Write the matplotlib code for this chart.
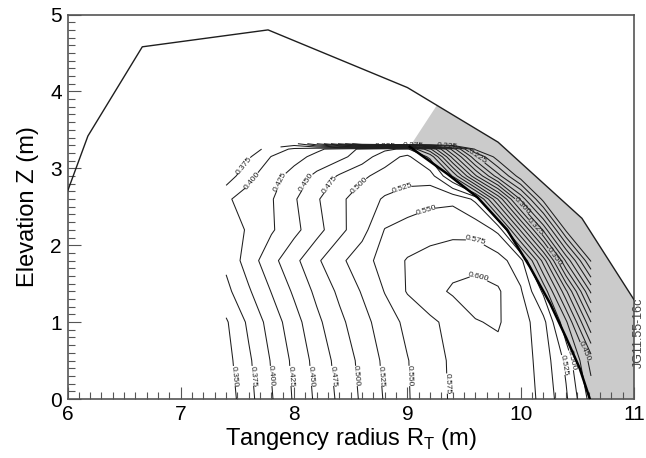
import numpy as np
import matplotlib
matplotlib.use("Agg")
import matplotlib.pyplot as plt
from matplotlib.ticker import MultipleLocator

plt.rcParams["font.family"] = ["Liberation Sans", "DejaVu Sans"]
plt.rcParams["mathtext.fontset"] = "custom"
plt.rcParams["mathtext.rm"] = "Liberation Sans"

# ── mapped quantity ──────────────────────────────────────────────────────────
r_nodes = [7.4, 7.6, 7.8, 8.0, 8.2, 8.4, 8.6, 8.8, 9.0, 9.2, 9.4, 9.6, 9.8,
           10.0, 10.2, 10.4, 10.62]
z_nodes = [0.0, 0.5, 1.0, 1.4, 1.8, 2.2, 2.6, 2.9, 3.15, 3.25, 3.32]

nan = np.nan
v_z000 = [0.336, 0.367, 0.398, 0.428, 0.455, 0.480, 0.504, 0.527, 0.548, 0.565,
          0.578, 0.586, 0.589, 0.585, 0.570, 0.529, 0.465]
v_z050 = [0.341, 0.371, 0.402, 0.431, 0.459, 0.484, 0.507, 0.530, 0.549, 0.565,
          0.579, 0.591, 0.594, 0.587, 0.565, 0.519, 0.440]
v_z100 = [0.347, 0.380, 0.411, 0.440, 0.469, 0.494, 0.516, 0.538, 0.556, 0.570,
          0.583, 0.599, 0.602, 0.587, 0.558, 0.480, 0.350]
v_z140 = [0.368, 0.397, 0.426, 0.454, 0.481, 0.505, 0.527, 0.551, 0.577, 0.592,
          0.603, 0.608, 0.603, 0.578, 0.520, 0.405, 0.270]
v_z180 = [0.381, 0.412, 0.442, 0.468, 0.496, 0.519, 0.540, 0.560, 0.577, 0.586,
          0.592, 0.593, 0.585, 0.560, 0.440, 0.295, 0.172]
v_z220 = [0.383, 0.404, 0.422, 0.443, 0.466, 0.493, 0.516, 0.551, 0.558, 0.563,
          0.567, 0.566, 0.545, 0.420, 0.295, 0.170, 0.100]
v_z260 = [0.397, 0.409, 0.423, 0.447, 0.472, 0.495, 0.512, 0.528, 0.538, 0.544,
          0.545, 0.520, 0.398, 0.270, 0.165, 0.100, 0.080]
v_z290 = [0.360, 0.394, 0.415, 0.435, 0.456, 0.478, 0.496, 0.508, 0.514, 0.512,
          0.448, 0.330, 0.235, 0.160, 0.100, 0.080, 0.080]
v_z315 = [0.358, 0.372, 0.401, 0.416, 0.432, 0.443, 0.462, 0.490, 0.505, 0.470,
          0.340, 0.230, 0.160, 0.100, 0.080, 0.080, 0.080]
v_z325 = [0.357, 0.362, 0.385, 0.405, 0.420, 0.435, 0.455, 0.470, 0.480, 0.405,
          0.290, 0.170, 0.130, 0.090, 0.080, 0.080, 0.080]
v_z332 = [nan, nan, nan, 0.360, 0.300, 0.220, 0.140, 0.120, 0.120, 0.120,
          0.120, 0.100, 0.080, 0.080, 0.080, 0.080, 0.080]

levels = [0.175, 0.200, 0.225, 0.250, 0.275, 0.300, 0.325, 0.350, 0.375,
          0.400, 0.425, 0.450, 0.475, 0.500, 0.525, 0.550, 0.575, 0.600]

# vessel outline and last closed surface in the tangency plane
wall_r = [6.0, 6.18, 6.66, 7.77, 9.0, 9.80, 10.54, 11.0]
wall_z = [2.70, 3.42, 4.58, 4.80, 4.05, 3.34, 2.35, 1.29]
sep_r = [9.02, 9.35, 9.62, 9.88, 10.08, 10.26, 10.40, 10.52, 10.61]
sep_z = [3.28, 2.93, 2.62, 2.20, 1.72, 1.24, 0.80, 0.40, 0.0]
shade_r = [9.26, 9.80, 10.54, 11.0, 11.0]
shade_z = [3.82, 3.34, 2.35, 1.29, 0.0]

# ── figure ───────────────────────────────────────────────────────────────────
fig = plt.figure(figsize=(6.46, 4.58), dpi=100, facecolor="white")
ax = fig.add_axes([0.1045, 0.1288, 0.877, 0.8395])

poly_r = sep_r + shade_r[::-1]
poly_z = sep_z + shade_z[::-1]
ax.fill(poly_r, poly_z, color="#cbcbcb", lw=0, zorder=1)

R, Z = np.meshgrid(r_nodes, z_nodes)
V = np.ma.masked_invalid(np.array([v_z000, v_z050, v_z100, v_z140, v_z180,
                                   v_z220, v_z260, v_z290, v_z315, v_z325,
                                   v_z332]))
cs = ax.contour(R, Z, V, levels=levels, colors="#1e1e1e",
                linewidths=0.75, zorder=3)

label_pos = [(7.48, 0.3), (7.64, 0.3), (7.80, 0.3), (7.97, 0.3), (8.15, 0.3),
             (8.34, 0.3), (8.55, 0.3), (8.77, 0.3), (9.02, 0.3), (9.33, 0.2),
             (10.41, 0.45), (10.48, 0.52), (10.56, 0.62),
             (7.55, 3.05), (7.62, 2.85), (7.85, 2.85), (8.08, 2.85),
             (8.30, 2.80), (8.54, 2.83), (8.95, 2.75), (9.16, 2.47),
             (9.60, 2.07), (9.60, 1.50),
             (10.0, 2.5), (10.13, 2.24), (10.29, 1.85),
             (8.80, 3.28), (9.05, 3.29), (9.35, 3.28), (9.62, 3.16)]
ax.clabel(cs, fmt="%.3f", fontsize=6, inline=True, inline_spacing=2,
          manual=label_pos, colors="#1e1e1e")

ax.plot(wall_r, wall_z, color="#1e1e1e", lw=1.0, zorder=4, clip_on=True)
ax.plot(sep_r, sep_z, color="black", lw=1.8, zorder=5)

# ── axes ─────────────────────────────────────────────────────────────────────
ax.set_xlim(6, 11)
ax.set_ylim(0, 5)
ax.xaxis.set_major_locator(MultipleLocator(1))
ax.xaxis.set_minor_locator(MultipleLocator(0.1))
ax.yaxis.set_major_locator(MultipleLocator(1))
ax.yaxis.set_minor_locator(MultipleLocator(0.1))
ax.tick_params(which="both", direction="in", top=False, right=False,
               color="#555555", width=0.8, labelsize=15, pad=4)
ax.tick_params(which="major", length=9)
ax.tick_params(which="minor", length=5)
for sp in ax.spines.values():
    sp.set_color("#555555")
    sp.set_linewidth(1.2)

ax.set_xlabel(r"Tangency radius R$_\mathregular{T}$ (m)", fontsize=17,
              labelpad=2)
ax.set_ylabel("Elevation Z (m)", fontsize=17, labelpad=8)

fig.text(0.9885, 0.274, "JG11.55-16c", rotation=90, fontsize=9,
         color="#444444", ha="center", va="center")

fig.savefig("out.png", dpi=100, facecolor="white")
